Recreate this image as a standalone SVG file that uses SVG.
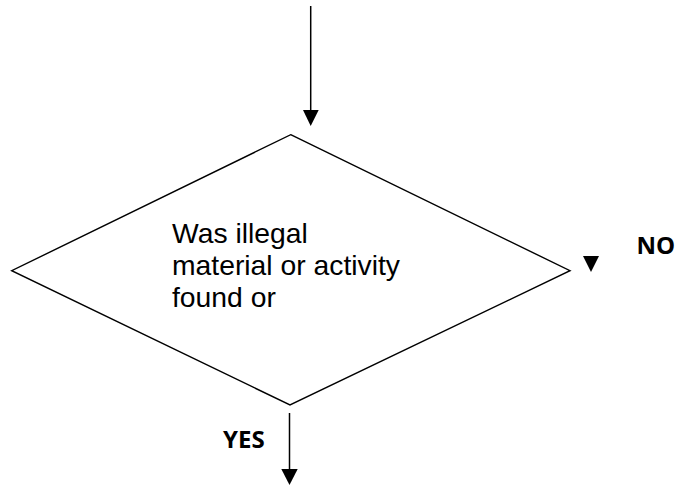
<svg xmlns="http://www.w3.org/2000/svg" width="676" height="485" viewBox="0 0 676 485">
<style>
.shape{fill:none;stroke:#000;stroke-width:1.4}
.line{fill:none;stroke:#000;stroke-width:1.5}
.head{fill:#000;stroke:none}
.body{font-family:"Liberation Sans",Arial,sans-serif;font-size:28.3px;fill:#000}
.lbl{font-family:"Open Sans","Noto Sans",sans-serif;font-weight:bold;font-size:24px;fill:#000}
</style>
<rect width="676" height="485" fill="#fff"/>
<g id="connectors">
<line class="line" x1="310.7" y1="6" x2="310.7" y2="112"/>
<polygon class="head" points="303,110 318.7,110 310.7,126"/>
<line class="line" x1="289.5" y1="413" x2="289.5" y2="472"/>
<polygon class="head" points="281.3,469 297.7,469 289.5,485"/>
<polygon class="head" points="583,256 599,256 591,272"/>
<text class="lbl" x="636.5" y="254.3">NO</text>
<text class="lbl" x="223" y="448.3">YES</text>
</g>
<g id="decision">
<polygon class="shape" points="290.7,134.7 570,270.7 290,405 11.7,270.7"/>
<text class="body" x="172" y="242.5">Was illegal</text>
<text class="body" x="172" y="274.8">material or activity</text>
<text class="body" x="172" y="306.5">found or</text>
</g>
</svg>
